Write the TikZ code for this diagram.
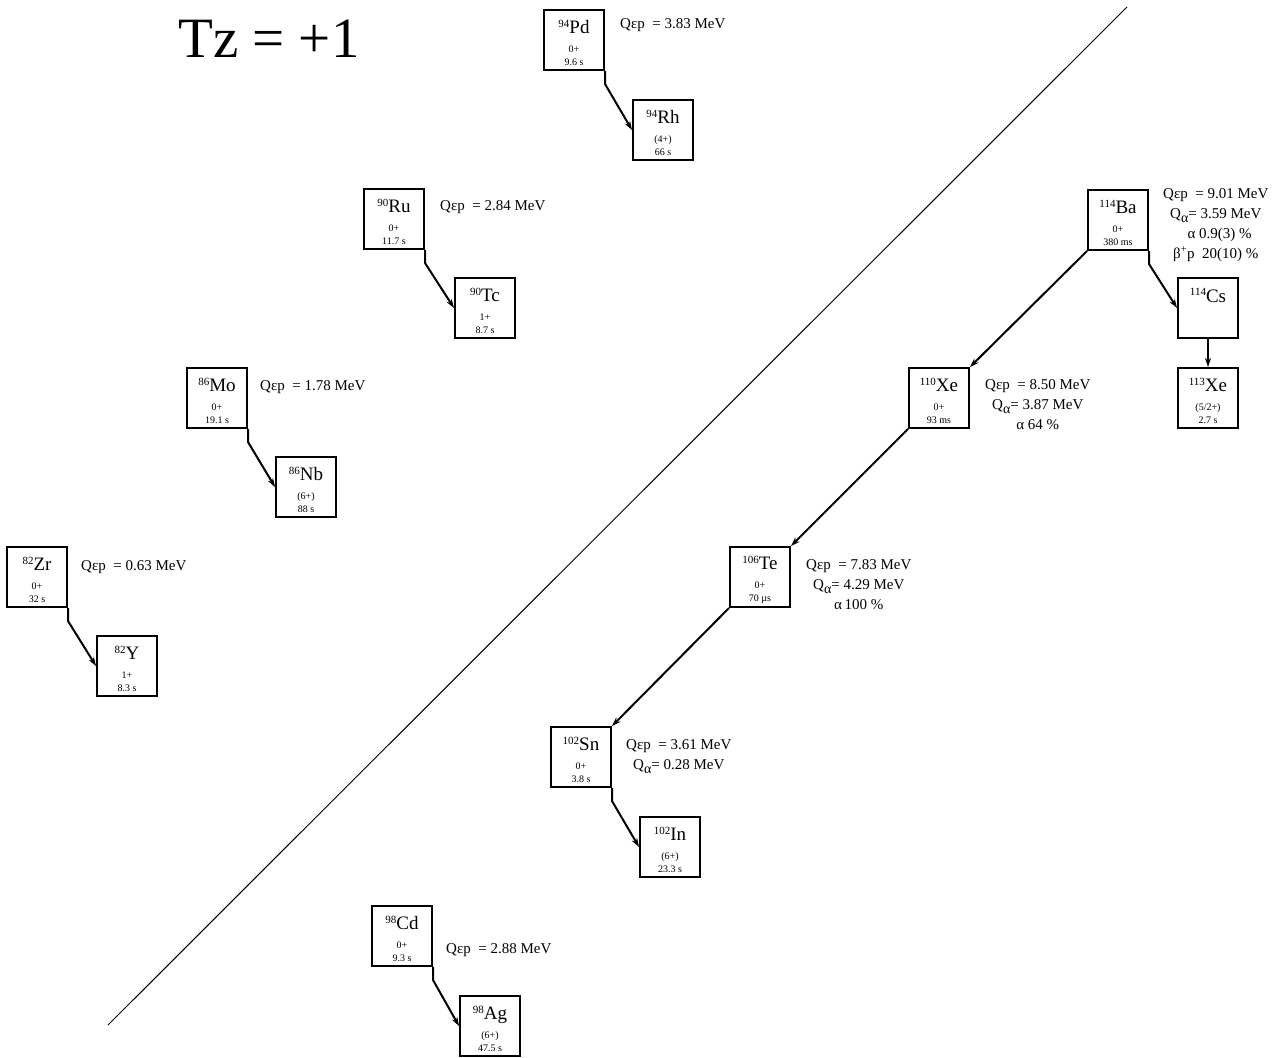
\documentclass[tikz,border=0pt]{standalone}
\usepackage{fontspec}
\setmainfont{Liberation Serif}
\usetikzlibrary{arrows.meta}

% mass number, element, spin, half-life
\newcommand{\nuc}[4]{{\fontsize{19}{19}\selectfont\rule{0pt}{20pt}\raisebox{6.5pt}{\fontsize{11}{11}\selectfont #1}#2}\\[6pt]#3\\#4}
% Q alpha
\newcommand{\qa}{Q\raisebox{-4pt}{\fontsize{14}{14}\selectfont α}}

\tikzset{
  nucbox/.style={draw, line width=2pt, minimum width=60pt, minimum height=60pt,
    inner sep=0pt, align=center, font=\fontsize{10}{13}\selectfont},
  decay/.style={line width=2pt, -{Stealth[length=9pt,width=6pt]}},
  qval/.style={anchor=base west, inner sep=0pt, align=center,
    font=\fontsize{15}{20}\selectfont},
}

\begin{document}
\begin{tikzpicture}[x=1pt, y=-1pt]
    \useasboundingbox (0,0) rectangle (1281,1057);

    \node[anchor=base west, inner sep=0pt, font=\fontsize{57}{57}\selectfont] (title) at (178,58) {Tz = +1};

    % N = Z line
    \draw[line width=1pt] (1127,7) -- (108,1025);

    % left of the line
    \node[nucbox] (pd94) at (574,40)  {\nuc{94}{Pd}{0+}{9.6 s}};
    \node[nucbox] (rh94) at (663,130) {\nuc{94}{Rh}{(4+)}{66 s}};
    \node[nucbox] (ru90) at (394,219) {\nuc{90}{Ru}{0+}{11.7 s}};
    \node[nucbox] (tc90) at (485,308) {\nuc{90}{Tc}{1+}{8.7 s}};
    \node[nucbox] (mo86) at (217,398) {\nuc{86}{Mo}{0+}{19.1 s}};
    \node[nucbox] (nb86) at (306,487) {\nuc{86}{Nb}{(6+)}{88 s}};
    \node[nucbox] (zr82) at (37,577)  {\nuc{82}{Zr}{0+}{32 s}};
    \node[nucbox] (y82)  at (127,666) {\nuc{82}{Y}{1+}{8.3 s}};

    % right of the line
    \node[nucbox] (ba114) at (1118,220) {\nuc{114}{Ba}{0+}{380 ms}};
    \node[nucbox] (cs114) at (1208,308) {\nuc{114}{Cs}{~}{~}};
    \node[nucbox] (xe113) at (1208,398) {\nuc{113}{Xe}{(5/2+)}{2.7 s}};
    \node[nucbox] (xe110) at (939,398)  {\nuc{110}{Xe}{0+}{93 ms}};
    \node[nucbox] (te106) at (760,577)  {\nuc{106}{Te}{0+}{70 µs}};
    \node[nucbox] (sn102) at (581,757)  {\nuc{102}{Sn}{0+}{3.8 s}};
    \node[nucbox] (in102) at (670,847)  {\nuc{102}{In}{(6+)}{23.3 s}};
    \node[nucbox] (cd98)  at (402,936)  {\nuc{98}{Cd}{0+}{9.3 s}};
    \node[nucbox] (ag98)  at (490,1026) {\nuc{98}{Ag}{(6+)}{47.5 s}};

    % Q values (base = last line)
    \node[qval] (qpd94) at (620,29)  {Qεp \ = 3.83 MeV};
    \node[qval] (qru90) at (440,210) {Qεp \ = 2.84 MeV};
    \node[qval] (qmo86) at (260,390) {Qεp \ = 1.78 MeV};
    \node[qval] (qzr82) at (81,570)  {Qεp \ = 0.63 MeV};
    \node[qval] (qcd98) at (446,953) {Qεp \ = 2.88 MeV};
    \node[qval] (qba114) at (1163,258)
      {Qεp \ = 9.01 MeV\\\qa= 3.59 MeV\\\ \ α 0.9(3) \%\\β\textsuperscript{+}p \ 20(10) \%};
    \node[qval] (qxe110) at (985,429)
      {Qεp \ = 8.50 MeV\\\qa= 3.87 MeV\\α 64 \%};
    \node[qval] (qte106) at (806,609)
      {Qεp \ = 7.83 MeV\\\qa= 4.29 MeV\\α\,100 \%};
    \node[qval] (qsn102) at (626,769)
      {Qεp \ = 3.61 MeV\\\qa= 0.28 MeV};

    % decays
    \draw[decay] (pd94.south east) -- ++(0,13) -- (rh94.west);
    \draw[decay] (ru90.south east) -- ++(0,13) -- (tc90.west);
    \draw[decay] (mo86.south east) -- ++(0,13) -- (nb86.west);
    \draw[decay] (zr82.south east) -- ++(0,13) -- (y82.west);
    \draw[decay] (sn102.south east) -- ++(0,13) -- (in102.west);
    \draw[decay] (cd98.south east) -- ++(0,13) -- (ag98.west);
    \draw[decay] (ba114.south east) -- ++(0,13) -- (cs114.west);
    \draw[decay] (cs114.south) -- (xe113.north);

    % alpha chain
    \draw[decay] (ba114.south west) -- (xe110.north east);
    \draw[decay] (xe110.south west) -- (te106.north east);
    \draw[decay] (te106.south west) -- (sn102.north east);
\end{tikzpicture}
\end{document}
